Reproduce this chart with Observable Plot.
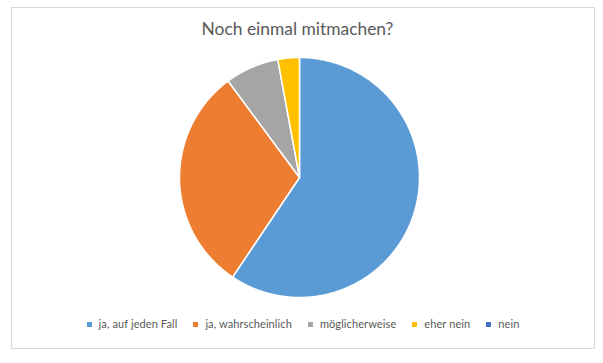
<!DOCTYPE html>
<html>
<head>
<meta charset="utf-8">
<script src="https://cdn.jsdelivr.net/npm/d3@7"></script>
<script src="https://cdn.jsdelivr.net/npm/@observablehq/plot@0.6"></script>
<style>
  html, body { margin: 0; padding: 0; background: #fff; }
  #wrap { position: relative; width: 603px; height: 363px; overflow: hidden; font-family: Lato, "Open Sans", sans-serif; }
  #frame { position: absolute; left: 11px; top: 7px; width: 582px; height: 340px; border: 1px solid #d9d9d9; }
  #title { position: absolute; left: 0; top: 17px; width: 595px; text-align: center; font-size: 17.4px; color: #595959; line-height: 24px; }
  #legend { position: absolute; left: 11px; width: 584px; top: 316px; display: flex; justify-content: center; gap: 16px; font-size: 11px; letter-spacing: 0.1px; color: #595959; line-height: 16px; }
  #legend .item { display: flex; align-items: center; }
  #legend .sw { width: 5px; height: 5px; margin-right: 7px; }
  #chart { position: absolute; left: 0; top: 0; }
</style>
</head>
<body>
<div id="wrap">
  <div id="frame"></div>
  <div id="chart"></div>
  <div id="title">Noch einmal mitmachen?</div>
  <div id="legend"></div>
</div>
<script>
const categories = ["ja, auf jeden Fall", "ja, wahrscheinlich", "möglicherweise", "eher nein", "nein"];
const values = [41, 21, 5, 2, 0];
const colors = ["#5B9BD5", "#ED7D31", "#A5A5A5", "#FFC000", "#4472C4"];
const titleText = "Noch einmal mitmachen?";

document.getElementById("title").textContent = titleText;

const rows = categories.map((c, i) => ({category: c, value: values[i]}));
const arcs = d3.pie().sort(null).value(d => d.value)(rows);

function slicePolygon(a) {
  const pts = [[0, 0]];
  const n = Math.max(2, Math.ceil((a.endAngle - a.startAngle) / 0.01));
  for (let k = 0; k <= n; k++) {
    const t = a.startAngle + (a.endAngle - a.startAngle) * k / n;
    pts.push([Math.sin(t), -Math.cos(t)]);
  }
  pts.push([0, 0]);
  return {type: "Feature", properties: {category: a.data.category}, geometry: {type: "Polygon", coordinates: [pts]}};
}
const features = arcs.filter(a => a.endAngle > a.startAngle).map(slicePolygon);

const chart = Plot.plot({
  width: 603,
  height: 363,
  marginLeft: 179,
  marginRight: 184,
  marginTop: 57,
  marginBottom: 66,
  projection: {type: "identity", domain: {type: "MultiPoint", coordinates: [[-1, -1], [1, 1]]}},
  color: {domain: categories, range: colors},
  marks: [
    Plot.geo(features, {fill: d => d.properties.category, stroke: "white", strokeWidth: 1.5, strokeLinejoin: "round"})
  ]
});
document.getElementById("chart").appendChild(chart);

const legend = document.getElementById("legend");
categories.forEach((c, i) => {
  const item = document.createElement("div");
  item.className = "item";
  const sw = document.createElement("span");
  sw.className = "sw";
  sw.style.background = colors[i];
  const lab = document.createElement("span");
  lab.textContent = c;
  item.appendChild(sw);
  item.appendChild(lab);
  legend.appendChild(item);
});
</script>
</body>
</html>
